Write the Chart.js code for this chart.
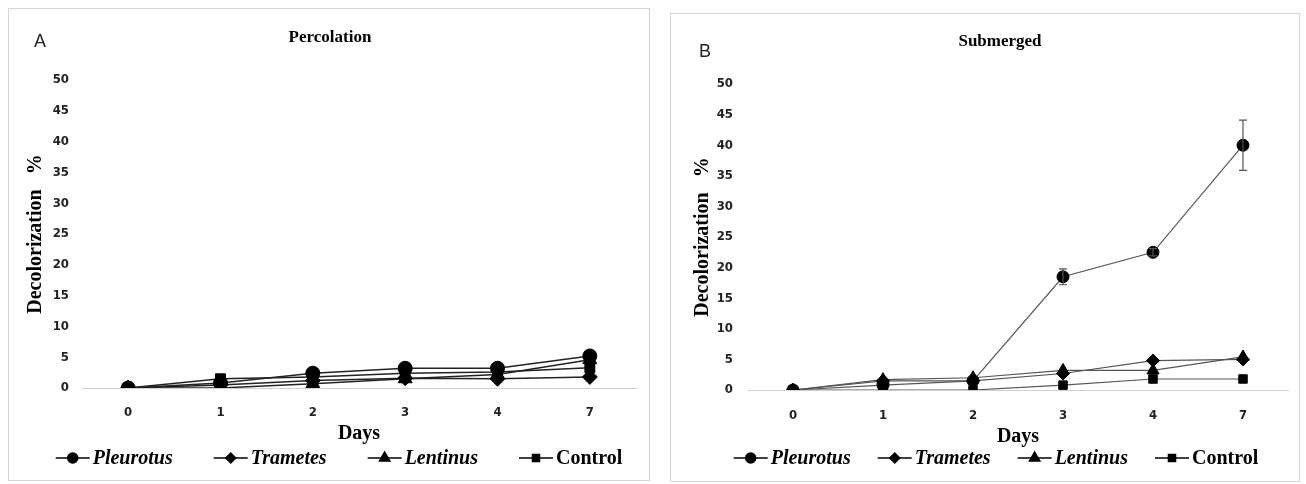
<!DOCTYPE html>
<html><head><meta charset="utf-8">
<script src="https://cdn.jsdelivr.net/npm/chart.js@4.4.0/dist/chart.umd.min.js"></script>
<style>
body{margin:0;background:#fff;width:1306px;height:484px;position:relative;overflow:hidden}
.panel{position:absolute;border:1px solid #d4d4d4;box-sizing:border-box;background:#fff}
#pa{left:8px;top:8px;width:642px;height:473px}
#pb{left:670px;top:13px;width:630px;height:469px}
canvas{display:block}
</style></head><body>
<div class="panel" id="pa"><canvas id="ca" width="640" height="471"></canvas></div>
<div class="panel" id="pb"><canvas id="cb" width="628" height="467"></canvas></div>
<script>
const days = ['0','1','2','3','4','7'];
const seriesNames = ['Pleurotus','Trametes','Lentinus','Control'];
const seriesItalic = [true,true,true,false];
const seriesMarkers = ['circle','rectRot','triangle','rect'];

// Percolation (A)
const percPleurotus = [0, 0.8, 2.4, 3.2, 3.2, 5.2];
const percTrametes  = [0, 0.5, 1.2, 1.6, 1.5, 1.8];
const percLentinus  = [0, 0.0, 0.7, 1.5, 2.2, 4.6];
const percControl   = [0, 1.5, 1.8, 2.4, 2.6, 3.3];

// Submerged (B)
const subPleurotus    = [0, 0.8, 1.5, 18.5, 22.5, 40.0];
const subPleurotusErr = [0, 0, 0, 1.3, 0.6, 4.1];
const subTrametes     = [0, 1.5, 1.5, 2.7, 4.8, 5.0];
const subLentinus     = [0, 1.7, 2.0, 3.2, 3.2, 5.4];
const subControl      = [0, 0, 0, 0.8, 1.8, 1.8];

const yMin = 0, yMax = 50, yStep = 5;

const serif = "'Liberation Serif','Times New Roman',serif";
const tickFamily = "'Liberation Sans Narrow','DejaVu Sans Condensed','Liberation Sans',sans-serif";

const errorBarPlugin = {
  id: 'errorBars',
  afterDatasetsDraw(chart) {
    const ctx = chart.ctx;
    chart.data.datasets.forEach((ds, i) => {
      if (!ds.errorBars) return;
      const meta = chart.getDatasetMeta(i);
      const y = chart.scales.y;
      ctx.save();
      ctx.strokeStyle = '#555';
      ctx.lineWidth = 1.2;
      meta.data.forEach((pt, j) => {
        const e = ds.errorBars[j];
        if (!e) return;
        const v = ds.data[j];
        const yt = y.getPixelForValue(v + e), yb = y.getPixelForValue(v - e);
        ctx.beginPath();
        ctx.moveTo(pt.x, yt); ctx.lineTo(pt.x, yb);
        ctx.moveTo(pt.x - 4, yt); ctx.lineTo(pt.x + 4, yt);
        ctx.moveTo(pt.x - 4, yb); ctx.lineTo(pt.x + 4, yb);
        ctx.stroke();
      });
      ctx.restore();
    });
  }
};

const decorPlugin = {
  id: 'decor',
  afterDraw(chart, args, opts) {
    const ctx = chart.ctx;
    ctx.save();
    ctx.fillStyle = '#222';
    ctx.font = "18px 'Liberation Sans',Arial,sans-serif";
    ctx.textAlign = 'center'; ctx.textBaseline = 'middle';
    ctx.fillText(opts.letter, opts.letterX, opts.letterY);
    ctx.fillStyle = '#000';
    ctx.font = "bold 17px " + serif;
    ctx.fillText(opts.title, opts.titleX, opts.titleY);
    const fs = opts.legendSize;
    const lineLen = 34;
    const items = chart.data.datasets.map((ds, i) => {
      ctx.font = (seriesItalic[i] ? 'italic bold ' : 'bold ') + fs + 'px ' + serif;
      return {ds, i, font: ctx.font, w: ctx.measureText(ds.label).width};
    });
    let total = 0;
    items.forEach((it, k) => { total += lineLen + 3 + it.w + (k ? opts.legendGap : 0); });
    let x = opts.legendCx - total / 2;
    const y = opts.legendY;
    items.forEach((it, k) => {
      if (k) x += opts.legendGap;
      ctx.strokeStyle = '#000'; ctx.lineWidth = 1.5;
      ctx.beginPath(); ctx.moveTo(x, y); ctx.lineTo(x + lineLen, y); ctx.stroke();
      ctx.fillStyle = '#000';
      Chart.helpers.drawPoint(ctx, {pointStyle: it.ds.pointStyle, radius: it.ds.pointStyle === 'triangle' ? 6 : 5, rotation: 0, borderWidth: 1}, x + lineLen / 2, y);
      x += lineLen + 3;
      ctx.font = it.font; ctx.fillStyle = '#000';
      ctx.textAlign = 'left'; ctx.textBaseline = 'middle';
      ctx.fillText(it.ds.label, x, y + 1);
      x += it.w;
    });
    ctx.restore();
  }
};

function makeDatasets(arrs, errs, lineColor, lineW, r) {
  return arrs.map((a, i) => ({
    label: seriesNames[i],
    data: a,
    errorBars: errs[i] || null,
    borderColor: lineColor,
    borderWidth: lineW,
    pointStyle: seriesMarkers[i],
    pointRadius: seriesMarkers[i] === 'triangle' ? r + 1 : (seriesMarkers[i] === 'rectRot' ? r + 0.5 : r),
    pointBackgroundColor: '#000',
    pointBorderColor: '#000',
    pointBorderWidth: 1,
    tension: 0,
    fill: false
  }));
}

function makeChart(id, datasets, cfg) {
  return new Chart(document.getElementById(id), {
    type: 'line',
    data: {labels: days, datasets},
    plugins: [errorBarPlugin, decorPlugin],
    options: {
      responsive: false,
      animation: false,
      layout: {padding: cfg.padding},
      plugins: {
        legend: {display: false},
        tooltip: {enabled: false},
        decor: cfg.decor
      },
      scales: {
        x: {
          offset: true,
          grid: {display: false, drawTicks: false},
          border: {display: true, color: '#d0d0d0', width: 1},
          ticks: {padding: cfg.xTickPad, color: '#222', font: {family: tickFamily, size: 13, weight: 'bold'}},
          title: {display: true, text: 'Days', color: '#000', padding: {top: 4, bottom: 4}, font: {family: serif, size: 20, weight: 'bold'}},
          afterFit: s => { s.height = cfg.xHeight; }
        },
        y: {
          min: yMin, max: yMax,
          grid: {display: false, drawTicks: false},
          border: {display: false},
          ticks: {stepSize: yStep, padding: cfg.yTickPad, color: '#222', font: {family: tickFamily, size: 13, weight: 'bold'}},
          title: {display: true, text: 'Decolorization   %', color: '#000', padding: {top: 4, bottom: 4}, font: {family: serif, size: 20, weight: 'bold'}},
          afterFit: s => { s.width = cfg.yWidth; }
        }
      }
    }
  });
}

makeChart('ca',
  makeDatasets([percPleurotus, percTrametes, percLentinus, percControl], [], '#222', 1.5, 7),
  {
    padding: {left: 11, right: 13, top: 71, bottom: 30},
    yWidth: 62, xHeight: 62, xTickPad: 17, yTickPad: 13,
    decor: {letter: 'A', letterX: 31, letterY: 33, title: 'Percolation', titleX: 321, titleY: 29,
            legendCx: 330, legendY: 449, legendGap: 41, legendSize: 20}
  });

makeChart('cb',
  makeDatasets([subPleurotus, subTrametes, subLentinus, subControl], [subPleurotusErr], '#555', 1.2, 6),
  {
    padding: {left: 16, right: 11, top: 70, bottom: 28},
    yWidth: 61, xHeight: 63, xTickPad: 18, yTickPad: 15,
    decor: {letter: 'B', letterX: 34, letterY: 38, title: 'Submerged', titleX: 329, titleY: 28,
            legendCx: 325, legendY: 444, legendGap: 27, legendSize: 20}
  });
</script>
</body></html>
